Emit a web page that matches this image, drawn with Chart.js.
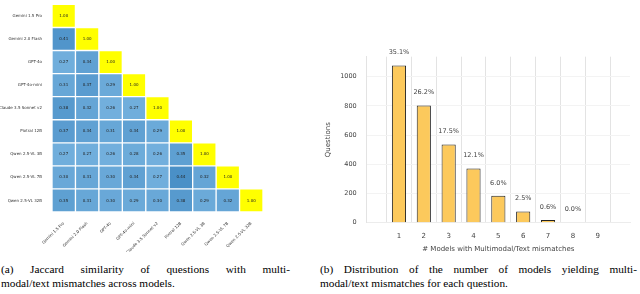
<!DOCTYPE html>
<html><head><meta charset="utf-8">
<script src="https://cdn.jsdelivr.net/npm/chart.js@4.4.0/dist/chart.umd.min.js"></script>
<style>
html,body{margin:0;padding:0;background:#fff;width:640px;height:294px;overflow:hidden;}
#a{position:absolute;left:0;top:0;width:272px;height:252px;}
#b{position:absolute;left:318px;top:40px;width:322px;height:215px;}
.cap{position:absolute;font-family:"Liberation Serif","Times New Roman",serif;font-size:11.3px;color:#000;white-space:nowrap;line-height:13px;}
.j{text-align:justify;text-align-last:justify;white-space:normal;}
</style></head><body>
<div id="a"><canvas id="ca"></canvas></div>
<div id="b"><canvas id="cb"></canvas></div>
<div class="cap j" style="left:1px;top:263px;width:289px;">(a) Jaccard similarity of questions with multi-</div>
<div class="cap" style="left:1px;top:277px;">modal/text mismatches across models.</div>
<div class="cap j" style="left:320px;top:263px;width:317px;">(b) Distribution of the number of models yielding multi-</div>
<div class="cap" style="left:320px;top:277px;">modal/text mismatches for each question.</div>
<script>
// ---- Data: heatmap (a)
const models = ["Gemini 1.5 Pro","Gemini 2.0 Flash","GPT-4o","GPT-4o-mini","Claude 3.5 Sonnet v2","Pixtral 12B","Qwen 2.5-VL 3B","Qwen 2.5-VL 7B","Qwen 2.5-VL 32B"];
const jaccardRow0 = [1.00];
const jaccardRow1 = [0.41,1.00];
const jaccardRow2 = [0.27,0.34,1.00];
const jaccardRow3 = [0.31,0.37,0.29,1.00];
const jaccardRow4 = [0.38,0.32,0.26,0.27,1.00];
const jaccardRow5 = [0.37,0.34,0.31,0.34,0.29,1.00];
const jaccardRow6 = [0.27,0.27,0.26,0.28,0.26,0.35,1.00];
const jaccardRow7 = [0.30,0.31,0.30,0.34,0.27,0.44,0.32,1.00];
const jaccardRow8 = [0.35,0.31,0.30,0.29,0.30,0.38,0.29,0.32,1.00];
const jaccard = [jaccardRow0,jaccardRow1,jaccardRow2,jaccardRow3,jaccardRow4,jaccardRow5,jaccardRow6,jaccardRow7,jaccardRow8];

// ---- Data: bar chart (b)
const mismatchCounts = [1,2,3,4,5,6,7,8,9];
const questionCounts = [1076,803,536,371,184,77,18,0,0];
const pctLabels = ["35.1%","26.2%","17.5%","12.1%","6.0%","2.5%","0.6%","0.0%",""];
const yTicks = [0,200,400,600,800,1000];

function cellColor(v){
  if (v >= 0.999) return '#ffff00';
  const t = Math.max(0, Math.min(1, (v - 0.25) / 0.2));
  const lo = [116,177,222], hi = [72,142,198];
  const c = lo.map((a,k)=>Math.round(a + (hi[k]-a)*t));
  return `rgb(${c[0]},${c[1]},${c[2]})`;
}

const heatDatasets = jaccard.map((row, i) => ({
  label: models[i],
  data: models.map((_, j) => j < row.length ? [i - 0.5, i + 0.5] : null),
  backgroundColor: ctx => cellColor(jaccard[ctx.datasetIndex][ctx.dataIndex]),
  borderColor: 'rgba(255,255,255,0.75)',
  borderWidth: 1,
  borderSkipped: false,
  grouped: false,
  barPercentage: 1,
  categoryPercentage: 1
}));

const heatText = {
  id: 'heatText',
  afterDatasetsDraw(chart) {
    const ctx = chart.ctx;
    ctx.save();
    ctx.font = '4px "DejaVu Sans"';
    ctx.fillStyle = '#222';
    ctx.textAlign = 'center';
    ctx.textBaseline = 'middle';
    chart.data.datasets.forEach((ds, i) => {
      const meta = chart.getDatasetMeta(i);
      meta.data.forEach((el, j) => {
        if (ds.data[j] == null) return;
        ctx.fillText(jaccard[i][j].toFixed(2), el.x, (el.y + el.base) / 2);
      });
    });
    ctx.restore();
  }
};

new Chart(document.getElementById('ca'), {
  type: 'bar',
  data: { labels: models, datasets: heatDatasets },
  options: {
    responsive: true, maintainAspectRatio: false, animation: false,
    layout: { padding: { top: 0, right: 9, left: 0, bottom: 0 } },
    plugins: { legend: { display: false }, tooltip: { enabled: false } },
    scales: {
      x: {
        type: 'category',
        grid: { display: false }, border: { display: false },
        ticks: { autoSkip: false, minRotation: 45, maxRotation: 45, padding: 1,
                 font: { family: 'DejaVu Sans', size: 4 }, color: '#333' },
        afterFit: s => { s.height = 40; }
      },
      y: {
        type: 'linear', reverse: true, min: -0.5, max: 8.5,
        afterBuildTicks: s => { s.ticks = models.map((_, i) => ({ value: i })); },
        grid: { display: false }, border: { display: false },
        ticks: { autoSkip: false, padding: 2, callback: v => models[v],
                 font: { family: 'DejaVu Sans', size: 4 }, color: '#333' },
        afterFit: s => { s.width = 52; }
      }
    }
  },
  plugins: [heatText]
});

const pctText = {
  id: 'pctText',
  afterDatasetsDraw(chart) {
    const ctx = chart.ctx;
    ctx.save();
    ctx.font = '6.5px "DejaVu Sans"';
    ctx.fillStyle = '#444';
    ctx.textAlign = 'center';
    ctx.textBaseline = 'middle';
    chart.getDatasetMeta(0).data.forEach((el, i) => {
      ctx.fillText(pctLabels[i], el.x, el.y - 13);
    });
    ctx.restore();
  }
};

new Chart(document.getElementById('cb'), {
  type: 'bar',
  data: {
    datasets: [{
      data: mismatchCounts.map((x, i) => ({ x: x, y: questionCounts[i] })),
      backgroundColor: '#fcc95c',
      borderColor: '#222',
      borderWidth: 1,
      borderSkipped: 'bottom',
      barPercentage: 0.57,
      categoryPercentage: 1
    }]
  },
  options: {
    responsive: true, maintainAspectRatio: false, animation: false,
    layout: { padding: { top: 16.7, right: 10, left: 0, bottom: 0 } },
    plugins: { legend: { display: false }, tooltip: { enabled: false } },
    scales: {
      x: {
        type: 'linear', min: 0.29, max: 9.71,
        afterBuildTicks: s => { s.ticks = mismatchCounts.map(v => ({ value: v })); },
        grid: { color: '#e3e3e3', drawTicks: false },
        border: { display: true, color: '#ececec' },
        ticks: { padding: 9, callback: v => String(v), font: { family: 'DejaVu Sans', size: 7 }, color: '#444' },
        title: { display: true, text: '# Models with Multimodal/Text mismatches',
                 font: { family: 'DejaVu Sans', size: 7 }, color: '#444', padding: 2 },
        afterFit: s => { s.height = 32.3; }
      },
      y: {
        type: 'linear', min: 0, max: 1137,
        afterBuildTicks: s => { s.ticks = yTicks.map(v => ({ value: v })); },
        grid: { color: '#f3f3f3', drawTicks: false },
        border: { display: true, color: '#e3e3e3' },
        ticks: { padding: 10, callback: v => String(v), font: { family: 'DejaVu Sans', size: 6.5 }, color: '#444' },
        title: { display: true, text: 'Questions',
                 font: { family: 'DejaVu Sans', size: 7 }, color: '#444', padding: 6 },
        afterFit: s => { s.width = 48.7; }
      }
    }
  },
  plugins: [pctText]
});
</script>
</body></html>
